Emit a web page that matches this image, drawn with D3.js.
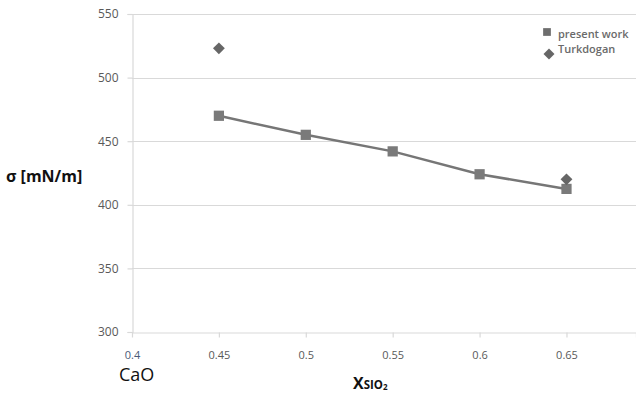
<!DOCTYPE html>
<html>
<head>
<meta charset="utf-8">
<script src="https://cdn.jsdelivr.net/npm/d3@7"></script>
<style>
body { margin: 0; background: #fff; }
svg { font-family: "Open Sans", "DejaVu Sans", sans-serif; }
</style>
</head>
<body>
<svg id="chart" width="636" height="397"></svg>
<script>
// values
var xValues = [0.45, 0.5, 0.55, 0.6, 0.65];
var presentWork = [470, 455, 442, 424, 412.5];
var turkX = [0.45, 0.65];
var turkdogan = [523, 420];
var xTicks = [0.4, 0.45, 0.5, 0.55, 0.6, 0.65];
var yTicks = [300, 350, 400, 450, 500, 550];
var legendNames = ["present work", "Turkdogan"];

var svg = d3.select("#chart");
var plotL = 132, plotR = 636, plotT = 14, plotB = 332;

var x = d3.scaleLinear().domain([0.4, 0.69]).range([plotL, plotR]);
var y = d3.scaleLinear().domain([300, 550]).range([plotB, plotT]);

//horizontal gridlines
svg.append("g").selectAll("line").data(yTicks.slice(1)).join("line")
    .attr("x1", plotL).attr("x2", plotR)
    .attr("y1", function(d) { return Math.round(y(d)) + 0.5; })
    .attr("y2", function(d) { return Math.round(y(d)) + 0.5; })
    .attr("stroke", "#d9d9d9").attr("stroke-width", 1.2);

//y axis
var yAxis = svg.append("g").attr("transform", "translate(" + (plotL + 0.5) + ",0)")
    .call(d3.axisLeft(y).tickValues(yTicks).tickSize(5).tickPadding(9));
yAxis.select(".domain").attr("stroke", "#d9d9d9").attr("stroke-width", 1.2);
yAxis.selectAll(".tick line").attr("stroke", "#d9d9d9").attr("stroke-width", 1.2);
yAxis.selectAll("text").attr("fill", "#595959").style("font-size", "12px").attr("font-family", "Open Sans");

//x axis
var xAxis = svg.append("g").attr("transform", "translate(0," + (plotB + 0.5) + ")")
    .call(d3.axisBottom(x).tickValues(xTicks).tickSize(5).tickPadding(14)
        .tickFormat(function(d) { return String(d); }));
xAxis.select(".domain").attr("stroke", "#d9d9d9").attr("stroke-width", 1.2);
xAxis.selectAll(".tick line").attr("stroke", "#d9d9d9").attr("stroke-width", 1.2);
xAxis.selectAll("text").attr("fill", "#595959").style("font-size", "11px").attr("font-family", "Open Sans");
xAxis.selectAll(".tick").filter(function(d) { return d === 0.4; }).select("line").remove();
xAxis.selectAll(".tick").filter(function(d) { return d === 0.4; }).select("text").attr("fill", "#4a5a78");

//present work line + squares
var pts = xValues.map(function(d, i) { return [x(d), y(presentWork[i])]; });
svg.append("path").datum(pts)
    .attr("d", d3.line())
    .attr("fill", "none").attr("stroke", "#767676").attr("stroke-width", 2.5);

svg.append("g").selectAll("path").data(pts).join("path")
    .attr("transform", function(d) { return "translate(" + d[0] + "," + d[1] + ")"; })
    .attr("d", d3.symbol(d3.symbolSquare, 105))
    .attr("fill", "#7a7a7a");

//turkdogan diamonds
svg.append("g").selectAll("path").data(turkX).join("path")
    .attr("transform", function(d, i) { return "translate(" + x(d) + "," + y(turkdogan[i]) + ") rotate(45)"; })
    .attr("d", d3.symbol(d3.symbolSquare, 70))
    .attr("fill", "#666");

//legend
var leg = svg.append("g");
leg.append("path").attr("transform", "translate(547,32)")
    .attr("d", d3.symbol(d3.symbolSquare, 60)).attr("fill", "#6e6e6e");
leg.append("path").attr("transform", "translate(549,54) rotate(45)")
    .attr("d", d3.symbol(d3.symbolSquare, 60)).attr("fill", "#666");
leg.selectAll("text").data(legendNames).join("text")
    .attr("x", 558).attr("y", function(d, i) { return 38 + i * 15; })
    .attr("fill", "#6a6a6a").style("font-size", "11px").style("font-weight", "600")
    .text(function(d) { return d; });

//axis titles
svg.append("text").attr("x", 6).attr("y", 182)
    .style("font-size", "16px").style("font-weight", "bold").attr("fill", "#111")
    .text("σ [mN/m]");

svg.append("text").attr("x", 119).attr("y", 381)
    .style("font-size", "18px").attr("fill", "#111")
    .text("CaO");

var xt = svg.append("text").attr("x", 353).attr("y", 389)
    .style("font-weight", "bold").attr("fill", "#111");
xt.append("tspan").style("font-size", "16px").text("X");
xt.append("tspan").style("font-size", "11.5px").text("SIO");
xt.append("tspan").style("font-size", "8px").attr("dy", 1).text("2");
</script>
</body>
</html>
